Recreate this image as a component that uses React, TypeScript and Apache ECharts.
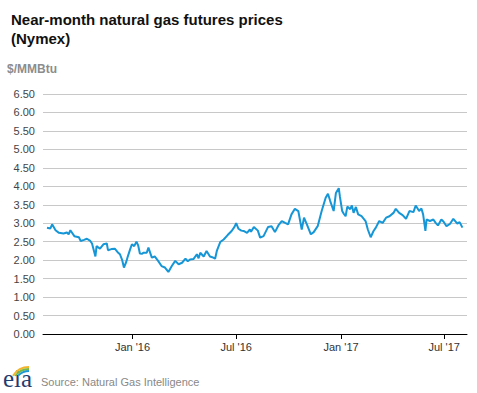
import React, { useEffect, useRef } from "react";
import * as echarts from "echarts";

const titleText = "Near-month natural gas futures prices\n(Nymex)";
const unitText = "$/MMBtu";
const sourceText = "Source: Natural Gas Intelligence";

const dates = [
  "2015-08-04", "2015-08-10", "2015-08-13", "2015-08-19", "2015-08-25", "2015-09-02", "2015-09-08", "2015-09-11",
  "2015-09-14", "2015-09-21", "2015-09-29", "2015-10-02", "2015-10-08", "2015-10-13", "2015-10-19", "2015-10-22",
  "2015-10-28", "2015-10-30", "2015-11-05", "2015-11-11", "2015-11-17", "2015-11-19", "2015-11-25", "2015-12-01",
  "2015-12-07", "2015-12-10", "2015-12-14", "2015-12-17", "2015-12-21", "2015-12-24", "2015-12-28", "2015-12-31",
  "2016-01-04", "2016-01-08", "2016-01-11", "2016-01-14", "2016-01-18", "2016-01-20", "2016-01-26", "2016-01-29",
  "2016-02-04", "2016-02-09", "2016-02-15", "2016-02-21", "2016-02-27", "2016-03-04", "2016-03-10", "2016-03-16",
  "2016-03-22", "2016-03-28", "2016-04-03", "2016-04-07", "2016-04-11", "2016-04-17", "2016-04-23", "2016-04-26",
  "2016-04-29", "2016-05-05", "2016-05-10", "2016-05-16", "2016-05-20", "2016-05-25", "2016-05-28", "2016-06-03",
  "2016-06-09", "2016-06-16", "2016-06-23", "2016-06-28", "2016-07-01", "2016-07-05", "2016-07-10", "2016-07-14",
  "2016-07-20", "2016-07-25", "2016-07-27", "2016-08-01", "2016-08-08", "2016-08-12", "2016-08-18", "2016-08-26",
  "2016-09-01", "2016-09-07", "2016-09-13", "2016-09-19", "2016-09-25", "2016-09-30", "2016-10-06", "2016-10-12",
  "2016-10-18", "2016-10-24", "2016-10-28", "2016-11-02", "2016-11-09", "2016-11-14", "2016-11-21", "2016-11-28",
  "2016-12-05", "2016-12-09", "2016-12-13", "2016-12-19", "2016-12-23", "2016-12-28", "2016-12-30", "2017-01-03",
  "2017-01-06", "2017-01-09", "2017-01-12", "2017-01-17", "2017-01-20", "2017-01-23", "2017-01-27", "2017-01-31",
  "2017-02-06", "2017-02-13", "2017-02-17", "2017-02-22", "2017-02-27", "2017-03-03", "2017-03-09", "2017-03-15",
  "2017-03-21", "2017-03-27", "2017-04-03", "2017-04-07", "2017-04-13", "2017-04-19", "2017-04-25", "2017-05-01",
  "2017-05-08", "2017-05-12", "2017-05-18", "2017-05-22", "2017-05-25", "2017-05-29", "2017-05-31", "2017-06-06",
  "2017-06-12", "2017-06-16", "2017-06-20", "2017-06-26", "2017-06-30", "2017-07-05", "2017-07-11", "2017-07-17",
  "2017-07-24", "2017-07-28", "2017-08-02",
];

const prices = [
  2.88, 2.86, 2.97, 2.81, 2.74, 2.72, 2.75, 2.70,
  2.81, 2.65, 2.62, 2.52, 2.55, 2.58, 2.52, 2.45,
  2.10, 2.38, 2.31, 2.43, 2.45, 2.27, 2.30, 2.31,
  2.20, 2.16, 2.00, 1.80, 1.95, 2.11, 2.30, 2.43,
  2.38, 2.50, 2.40, 2.18, 2.17, 2.20, 2.20, 2.34,
  2.07, 2.10, 1.98, 1.84, 1.80, 1.68, 1.84, 1.98,
  1.89, 1.93, 2.04, 1.97, 2.02, 2.03, 2.16, 2.05,
  2.20, 2.10, 2.25, 2.10, 2.08, 2.04, 2.25, 2.49,
  2.56, 2.68, 2.79, 2.90, 3.00, 2.85, 2.80, 2.79,
  2.74, 2.83, 2.77, 2.90, 2.80, 2.61, 2.65, 2.90,
  2.92, 2.76, 2.94, 3.06, 3.01, 2.97, 3.24, 3.39,
  3.33, 2.83, 3.15, 2.97, 2.70, 2.76, 2.92, 3.33,
  3.69, 3.80, 3.60, 3.33, 3.82, 3.95, 3.72, 3.33,
  3.25, 3.19, 3.45, 3.38, 3.48, 3.28, 3.44, 3.24,
  3.19, 3.06, 2.83, 2.62, 2.79, 2.88, 3.06, 3.01,
  3.15, 3.19, 3.28, 3.39, 3.28, 3.22, 3.12, 3.33,
  3.30, 3.48, 3.33, 3.40, 3.24, 2.79, 3.10, 3.06,
  3.10, 3.01, 2.94, 3.10, 3.04, 2.92, 2.98, 3.12,
  2.99, 3.03, 2.88,
];

const tickDates = ["2016-01-01", "2016-07-01", "2017-01-01", "2017-07-01"];
const tickLabels = ["Jan '16", "Jul '16", "Jan '17", "Jul '17"];
const axisStart = "2015-07-28";
const axisEnd = "2017-08-10";

function toTs(s: string): number {
  const [y, m, d] = s.split("-").map(Number);
  return Date.UTC(y, m - 1, d);
}

export default function App() {
  const ref = useRef<HTMLDivElement>(null);
  useEffect(() => {
    if (!ref.current) return;
    const chart = echarts.init(ref.current, null, { renderer: "svg" });
    const tickTs = tickDates.map(toTs);
    const font = "'Liberation Sans', Arial, sans-serif";
    chart.setOption({
      animation: false,
      backgroundColor: "#ffffff",
      title: {
        text: titleText,
        left: 6,
        top: 5,
        textStyle: {
          fontFamily: font,
          fontSize: 15,
          fontWeight: "bold",
          lineHeight: 19,
          color: "#111",
        },
      },
      grid: { left: 43, right: 10, top: 94, bottom: 59 },
      xAxis: {
        type: "value",
        min: toTs(axisStart),
        max: toTs(axisEnd),
        axisLine: { show: true, onZero: false, lineStyle: { color: "#000", width: 1 } },
        axisTick: {
          show: true,
          customValues: tickTs,
          length: 5,
          lineStyle: { color: "#000" },
        },
        axisLabel: {
          customValues: tickTs,
          margin: 7,
          fontFamily: font,
          fontSize: 11,
          color: "#333",
          formatter: (v: number) => {
            let best = 0;
            let bd = Infinity;
            tickTs.forEach((t, i) => {
              const d = Math.abs(t - v);
              if (d < bd) { bd = d; best = i; }
            });
            return bd < 86400000 * 3 ? tickLabels[best] : "";
          },
        },
        splitLine: { show: false },
      },
      yAxis: {
        type: "value",
        min: 0,
        max: 6.5,
        interval: 0.5,
        axisLine: { show: false },
        axisTick: { show: false },
        axisLabel: {
          margin: 8,
          fontFamily: font,
          fontSize: 11,
          color: "#444",
          formatter: (v: number) => v.toFixed(2),
        },
        splitLine: { show: true, lineStyle: { color: "#c8c8c8", width: 1 } },
      },
      series: [
        {
          type: "line",
          data: dates.map((d, i) => [toTs(d), prices[i]]),
          showSymbol: false,
          symbol: "none",
          lineStyle: { color: "#1596d6", width: 2 },
          itemStyle: { color: "#1596d6" },
          z: 3,
        },
      ],
      graphic: [
        {
          type: "text",
          left: 7,
          top: 63,
          style: {
            text: unitText,
            fontFamily: font,
            fontSize: 12,
            fontWeight: "bold",
            fill: "#8c8c8c",
          },
        },
        {
          type: "text",
          left: 41,
          top: 376,
          style: {
            text: sourceText,
            fontFamily: font,
            fontSize: 11,
            fill: "#888",
          },
        },
        {
          type: "text",
          x: 3,
          y: 391,
          style: {
            text: "eia",
            fontFamily: "'Liberation Serif', 'DejaVu Serif', serif",
            fontSize: 25,
            fill: "#1f3d6e",
            verticalAlign: "bottom",
          },
        },
        {
          type: "arc",
          shape: { cx: 29, cy: 386, r: 19, startAngle: Math.PI * 1.18, endAngle: Math.PI * 1.5 },
          style: { stroke: "#f2b52b", lineWidth: 2, fill: "none" },
        },
        {
          type: "arc",
          shape: { cx: 29, cy: 386, r: 17, startAngle: Math.PI * 1.2, endAngle: Math.PI * 1.5 },
          style: { stroke: "#79b943", lineWidth: 2, fill: "none" },
        },
        {
          type: "arc",
          shape: { cx: 29, cy: 386, r: 15, startAngle: Math.PI * 1.25, endAngle: Math.PI * 1.5 },
          style: { stroke: "#1a98d5", lineWidth: 2, fill: "none" },
        },
      ],
    });
    return () => chart.dispose();
  }, []);
  return (
    <div
      ref={ref}
      style={{ position: "fixed", left: 0, top: 0, width: 477, height: 393 }}
    />
  );
}
